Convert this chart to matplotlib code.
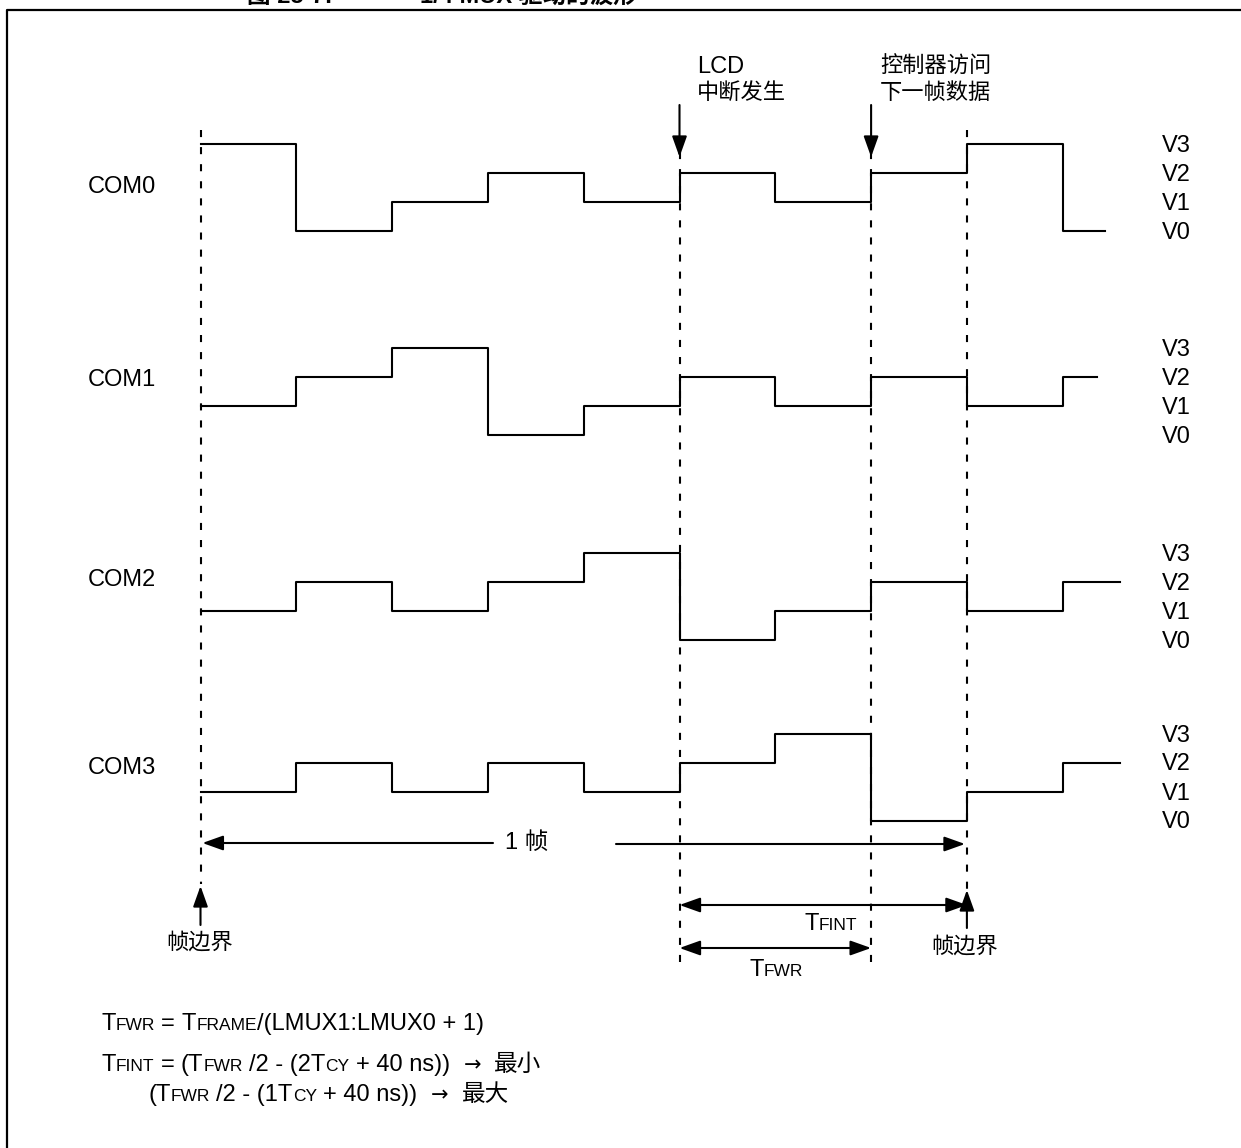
import numpy as np
import matplotlib
matplotlib.use('Agg')
import matplotlib.pyplot as plt

plt.rcParams['font.family'] = ['Liberation Sans', 'Noto Sans CJK SC', 'DejaVu Sans']

# waveform data: drive level per time slot (0 = V0 ... 3 = V3)
channels = ['COM0', 'COM1', 'COM2', 'COM3']
level_names = ['V0', 'V1', 'V2', 'V3']
com0 = [3, 0, 1, 2, 1, 2, 1, 2, 3, 0]
com1 = [1, 2, 3, 0, 1, 2, 1, 2, 1, 2]
com2 = [1, 2, 1, 2, 3, 0, 1, 2, 1, 2]
com3 = [1, 2, 1, 2, 1, 2, 3, 0, 1, 2]
waves = [com0, com1, com2, com3]
trace_end = [9.44, 9.36, 9.6, 9.6]   # where each trace stops, in slots

# timing marks (in slots)
frame_start = 0
lcd_irq = 5
ctrl_access = 7
frame_end = 8

# layout (pixels)
W, H = 1241, 1148
x0, slot = 200.5, 95.8
row_v0 = [231, 435, 640, 820.5]
step_px = 29
com_label_y = [187, 380, 580, 768]

fig = plt.figure(figsize=(W / 100, H / 100), dpi=100)
ov = fig.add_axes([0, 0, 1, 1])
ov.set_xlim(0, W)
ov.set_ylim(H, 0)
ov.axis('off')
ax = fig.add_axes([0, 0, 1, 1])
ax.set_xlim(-x0 / slot, (W - x0) / slot)
ax.set_ylim(H, 0)
ax.axis('off')
ax.patch.set_alpha(0)

lw = 1.5
fs = 17
small = 12.5

# frame around the figure (open at right and bottom, as in the page crop)
ov.plot([7, 7, W], [H, 9.5, 9.5], color='k', lw=1.6, solid_capstyle='butt')
ov.text(247, 3, '图 25-7:', fontsize=17, fontweight='bold', va='baseline')
ov.text(420, 3, '1/4 MUX 驱动的波形', fontsize=17, fontweight='bold', va='baseline')

# waveforms
for i, lv in enumerate(waves):
    t = list(range(len(lv))) + [trace_end[i]]
    y = [row_v0[i] - v * step_px for v in lv + [lv[-1]]]
    ax.step(t, y, where='post', color='k', lw=lw)
    ov.text(88, com_label_y[i], channels[i], fontsize=fs, va='center')
    for k, name in enumerate(level_names):
        ov.text(1162, row_v0[i] - k * step_px + 2, name, fontsize=fs, va='center')

# dashed frame markers
dash = (0, (3.4, 4.8))
ax.plot([frame_start] * 2, [130, 884], color='k', lw=lw, ls=dash)
ax.plot([lcd_irq] * 2, [152, 965], color='k', lw=lw, ls=dash)
ax.plot([ctrl_access] * 2, [152, 965], color='k', lw=lw, ls=dash)
ax.plot([frame_end] * 2, [130, 890], color='k', lw=lw, ls=dash)

arrow = dict(arrowstyle='-|>,head_length=0.7,head_width=0.25', color='k', lw=lw,
             mutation_scale=18, shrinkA=0, shrinkB=0)
both = dict(arrowstyle='<|-|>,head_length=0.7,head_width=0.25', color='k', lw=lw,
            mutation_scale=18, shrinkA=0, shrinkB=0)

# event arrows from above
for t in (lcd_irq, ctrl_access):
    ax.annotate('', xy=(t, 157), xytext=(t, 105), arrowprops=arrow)
ov.text(697, 67, 'LCD', fontsize=fs, va='center')
ov.text(697, 93, '中断发生', fontsize=16, va='center')
ov.text(880, 67, '控制器访问', fontsize=16, va='center')
ov.text(880, 93, '下一帧数据', fontsize=16, va='center')

# frame boundary arrows from below
ax.annotate('', xy=(frame_start, 886), xytext=(frame_start, 925), arrowprops=arrow)
ax.annotate('', xy=(frame_end, 890), xytext=(frame_end, 928), arrowprops=arrow)
ov.text(200, 943, '帧边界', fontsize=16, ha='center', va='center')
ov.text(965, 947, '帧边界', fontsize=16, ha='center', va='center')

# 1 frame span
ax.annotate('', xy=(frame_start + 0.02, 843), xytext=((493 - x0) / slot, 843), arrowprops=arrow)
ax.annotate('', xy=(frame_end - 0.02, 844), xytext=((616 - x0) / slot, 844), arrowprops=arrow)
ov.text(505, 843, '1 帧', fontsize=fs, va='center')

# TFINT / TFWR spans
ax.annotate('', xy=(lcd_irq, 905), xytext=(frame_end, 905), arrowprops=both)
ax.annotate('', xy=(lcd_irq, 948), xytext=(ctrl_access, 948), arrowprops=both)

fig.canvas.draw()
r = fig.canvas.get_renderer()


def width(s, size, fam=None):
    t = ov.text(0, 0, '|' + s + '|', fontsize=size, family=fam)
    b = ov.text(0, 0, '||', fontsize=size, family=fam)
    w = t.get_window_extent(r).width - b.get_window_extent(r).width
    t.remove()
    b.remove()
    return w


def rich(x, y, parts, ha='left'):
    parts = [p if len(p) == 3 else (p[0], p[1], None) for p in parts]
    total = sum(width(s, z, f) for s, z, f in parts)
    if ha == 'right':
        x -= total
    elif ha == 'center':
        x -= total / 2
    for s, z, f in parts:
        lead = len(s) - len(s.lstrip())
        if s.strip():
            ov.text(x + width(' ' * lead, z, f) if lead else x, y, s.strip(),
                    fontsize=z, family=f, va='baseline', ha='left')
        x += width(s, z, f)


rich(857, 930, [('T', fs), ('FINT', small)], ha='right')
rich(776, 976, [('T', fs), ('FWR', small)], ha='center')

# formulas
arr = ('\u2192', 15, 'DejaVu Sans')
rich(101, 1030, [('T', fs), ('FWR', small), (' = ', fs), ('T', fs), ('FRAME', small),
                 ('/(LMUX1:LMUX0 + 1)', fs)])
rich(101, 1071, [('T', fs), ('FINT', small), (' = ', fs), ('(T', fs), ('FWR', small),
                 (' /2 - (2T', fs), ('CY', small), (' + 40 ns))  ', fs), arr,
                 ('  最小', fs)])
rich(148, 1101, [('(T', fs), ('FWR', small), (' /2 - (1T', fs), ('CY', small),
                 (' + 40 ns))  ', fs), arr, ('  最大', fs)])

fig.savefig('out.png', dpi=100)
